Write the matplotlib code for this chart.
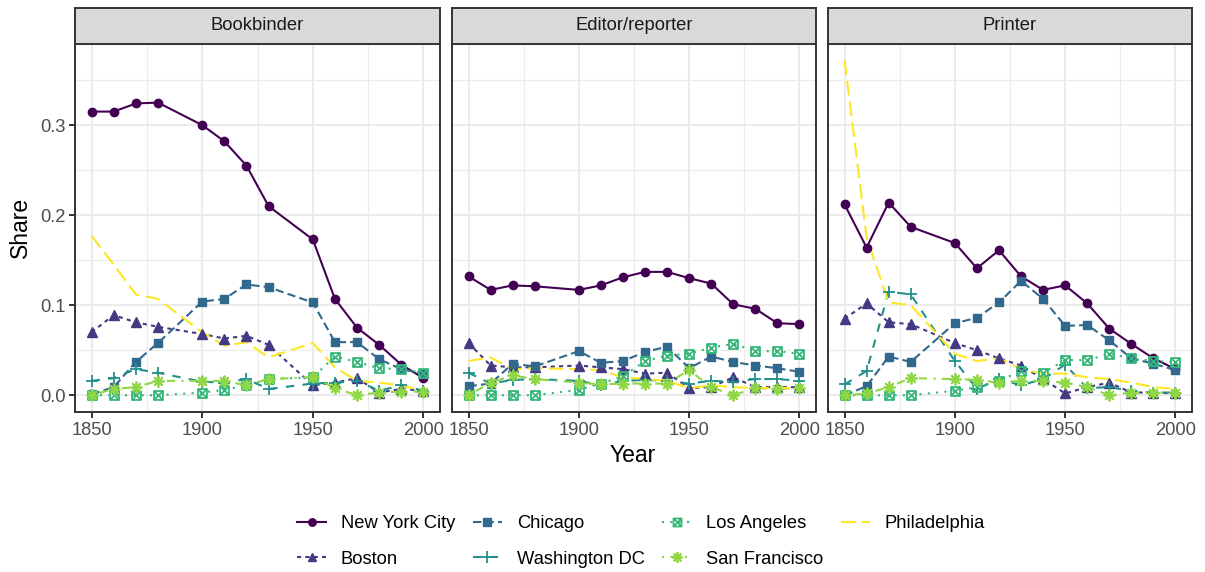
import numpy as np
import matplotlib.pyplot as plt
from matplotlib.path import Path
from matplotlib.lines import Line2D

plt.rcParams['font.family'] = ['Liberation Sans', 'DejaVu Sans']

# ---- data ----
panels = ['Bookbinder', 'Editor/reporter', 'Printer']
cities = ['New York City', 'Boston', 'Chicago', 'Washington DC',
          'Los Angeles', 'San Francisco', 'Philadelphia']

# the bookbinder series has no 1940 point
years_bookbinder = [1850, 1860, 1870, 1880, 1900, 1910, 1920, 1930,
                    1950, 1960, 1970, 1980, 1990, 2000]
years_other = [1850, 1860, 1870, 1880, 1900, 1910, 1920, 1930, 1940,
               1950, 1960, 1970, 1980, 1990, 2000]

book_nyc = [.315, .315, .324, .325, .300, .282, .255, .210, .173, .107, .075, .056, .034, .019]
book_bos = [.070, .089, .081, .076, .068, .063, .066, .056, .011, .014, .019, .003, .007, .005]
book_chi = [.001, .009, .037, .058, .104, .107, .123, .120, .103, .059, .059, .040, .029, .024]
book_dc = [.016, .019, .029, .025, .015, .014, .018, .007, .013, .014, .016, .005, .011, .005]
book_la = [.000, .000, .000, .000, .003, .006, .011, .018, .020, .043, .037, .030, .029, .025]
book_sf = [.000, .007, .009, .016, .016, .016, .011, .018, .020, .008, .000, .003, .004, .004]
book_phi = [.177, .145, .112, .107, .070, .055, .059, .042, .058, .031, .016, .014, .011, .005]

edit_nyc = [.132, .117, .122, .121, .117, .122, .131, .137, .137, .130, .124, .101, .096, .080, .079]
edit_bos = [.058, .033, .031, .031, .033, .031, .029, .024, .025, .008, .009, .020, .009, .009, .009]
edit_chi = [.010, .013, .035, .032, .049, .036, .038, .048, .054, .030, .043, .037, .033, .030, .026]
edit_dc = [.025, .013, .017, .018, .016, .011, .016, .017, .016, .013, .016, .015, .018, .018, .016]
edit_la = [.000, .000, .000, .000, .006, .013, .021, .038, .044, .046, .053, .057, .049, .049, .046]
edit_sf = [.000, .014, .022, .018, .014, .012, .013, .013, .013, .028, .009, .000, .008, .007, .008]
edit_phi = [.038, .042, .029, .030, .029, .028, .020, .018, .016, .008, .011, .009, .008, .008, .008]

print_nyc = [.212, .164, .214, .187, .169, .141, .161, .132, .117, .122, .102, .074, .057, .041, .029]
print_bos = [.085, .102, .081, .079, .058, .050, .041, .033, .018, .002, .009, .014, .003, .003, .002]
print_chi = [.000, .010, .043, .037, .080, .086, .103, .127, .107, .077, .078, .061, .041, .035, .028]
print_dc = [.012, .027, .115, .112, .038, .007, .018, .011, .018, .034, .008, .009, .005, .003, .003]
print_la = [.000, .000, .000, .000, .005, .009, .016, .027, .025, .039, .039, .046, .041, .038, .037]
print_sf = [.000, .002, .009, .019, .018, .017, .014, .016, .016, .014, .009, .000, .003, .003, .003]
print_phi = [.372, .175, .103, .100, .046, .038, .041, .029, .024, .024, .020, .018, .014, .009, .007]

panel_years = [years_bookbinder, years_other, years_other]
panel_series = [
    [book_nyc, book_bos, book_chi, book_dc, book_la, book_sf, book_phi],
    [edit_nyc, edit_bos, edit_chi, edit_dc, edit_la, edit_sf, edit_phi],
    [print_nyc, print_bos, print_chi, print_dc, print_la, print_sf, print_phi],
]

# ---- styling (ggplot viridis / default linetypes + shapes) ----
colors = ['#440154', '#443A83', '#31688E', '#21908C', '#35B779', '#8FD744', '#FDE725']
dashes = [None, (2, 2), (4, 2), (4, 4), (1, 3), (1, 3, 4, 3), (7, 3)]

sq_cross = Path(
    [(-1, -1), (1, -1), (1, 1), (-1, 1), (-1, -1), (-1, -1), (1, 1), (-1, 1), (1, -1)],
    [Path.MOVETO, Path.LINETO, Path.LINETO, Path.LINETO, Path.CLOSEPOLY,
     Path.MOVETO, Path.LINETO, Path.MOVETO, Path.LINETO])
markers = ['o', '^', 's', '+', sq_cross, (8, 2, 0), None]
msizes = [6, 6.5, 5.8, 9, 6.4, 8.5, 0]
filled = [True, True, True, False, False, False, False]

LW = 1.5
dark = '#333333'
small = 13.2
big = 16.5

fig = plt.figure(figsize=(12.05, 5.72), dpi=100)

lefts = [75, 452, 828]
rights = [440, 816, 1192]
W, H = 1205, 572
p_top, p_bot, s_top = 43.5, 412, 7.5

axes = []
for i, name in enumerate(panels):
    x0 = lefts[i] / W
    w = (rights[i] - lefts[i]) / W
    ax = fig.add_axes([x0, 1 - p_bot / H, w, (p_bot - p_top) / H],
                      sharey=axes[0] if axes else None)
    axes.append(ax)
    years = panel_years[i]
    for j, vals in enumerate(panel_series[i]):
        ln, = ax.plot(years, vals, color=colors[j], lw=LW, zorder=3 + j * 0.1)
        if dashes[j] is not None:
            ln.set_dashes(dashes[j])
    for j, vals in enumerate(panel_series[i]):
        if markers[j] is None:
            continue
        if filled[j]:
            ax.plot(years, vals, ls='none', marker=markers[j], ms=msizes[j],
                    color=colors[j], mec=colors[j], zorder=5)
        else:
            ax.plot(years, vals, ls='none', marker=markers[j], ms=msizes[j],
                    color=colors[j], mfc='none', mew=1.3, zorder=5)

    ax.set_xlim(1842.5, 2007.5)
    ax.set_xticks([1850, 1900, 1950, 2000])
    ax.set_xticks([1875, 1925, 1975], minor=True)
    ax.grid(True, which='major', color='#EBEBEB', lw=1.5, zorder=0)
    ax.grid(True, which='minor', color='#EBEBEB', lw=0.8, zorder=0)
    ax.set_axisbelow(True)
    for s in ax.spines.values():
        s.set_color(dark)
        s.set_linewidth(1.4)
    ax.tick_params(which='major', length=4, width=1.4, color=dark,
                   labelsize=small, labelcolor='#4D4D4D', pad=3)
    ax.tick_params(which='minor', length=0)
    if i > 0:
        ax.tick_params(axis='y', labelleft=False, length=0)

    # facet strip
    sax = fig.add_axes([x0, 1 - p_top / H, w, (p_top - s_top) / H])
    sax.set_facecolor('#D9D9D9')
    sax.set_xticks([])
    sax.set_yticks([])
    for s in sax.spines.values():
        s.set_color(dark)
        s.set_linewidth(1.4)
    sax.text(0.5, 0.5, name, ha='center', va='center', fontsize=small,
             color='#1A1A1A', transform=sax.transAxes)

axes[0].set_ylim(-0.0186, 0.3906)
axes[0].set_yticks([0.0, 0.1, 0.2, 0.3])
axes[0].set_yticks([0.05, 0.15, 0.25, 0.35], minor=True)
axes[0].set_yticklabels(['0.0', '0.1', '0.2', '0.3'])

fig.text(20 / W, 1 - 227 / H, 'Share', rotation=90, ha='center', va='center', fontsize=big)
fig.text(633 / W, 1 - 456 / H, 'Year', ha='center', va='center', fontsize=big)

# legend
handles = []
for j, name in enumerate(cities):
    h = Line2D([], [], color=colors[j], lw=LW,
               marker=markers[j] if markers[j] is not None else None,
               ms=msizes[j] * 0.9,
               mfc=colors[j] if filled[j] else 'none', mec=colors[j],
               mew=1.3 if not filled[j] else 1.0)
    if dashes[j] is not None:
        h.set_dashes(dashes[j])
    handles.append(h)

fig.legend(handles, cities, loc='center', bbox_to_anchor=(641 / W, 1 - 541.5 / H),
           ncol=4, frameon=False, fontsize=small, handlelength=1.6,
           handletextpad=0.8, columnspacing=0.95, labelspacing=1.0,
           borderpad=0, borderaxespad=0)

fig.savefig('out.png', dpi=100)
